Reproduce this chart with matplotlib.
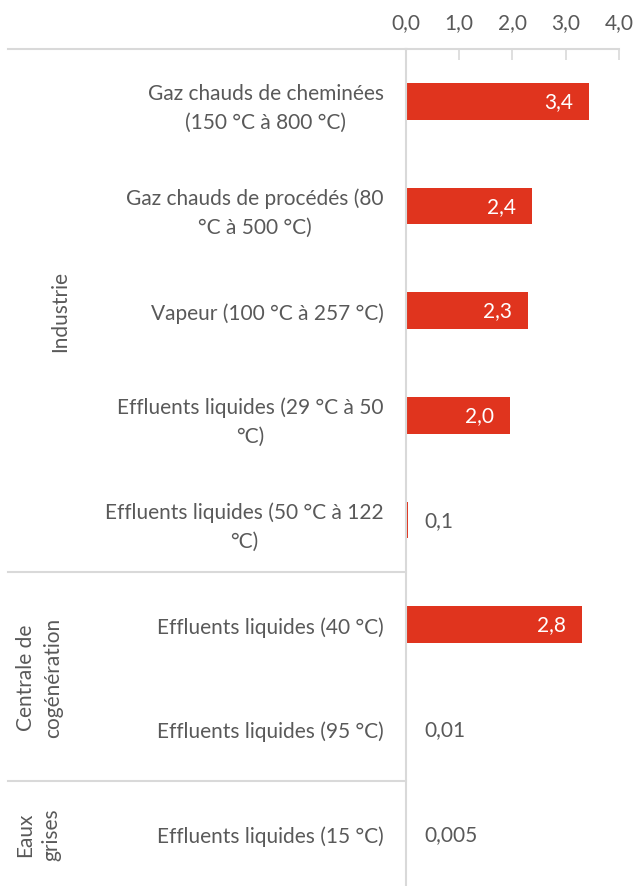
import matplotlib
matplotlib.use("Agg")
import matplotlib.pyplot as plt
import matplotlib.transforms as mtransforms

plt.rcParams['font.family'] = ['Lato', 'DejaVu Sans']

categories = [
    "Gaz chauds de cheminées\n(150 °C à 800 °C)",
    "Gaz chauds de procédés (80\n°C à 500 °C)",
    "Vapeur (100 °C à 257 °C)",
    "Effluents liquides (29 °C à 50\n°C)",
    "Effluents liquides (50 °C à 122\n°C)",
    "Effluents liquides (40 °C)",
    "Effluents liquides (95 °C)",
    "Effluents liquides (15 °C)",
]
# bar lengths as drawn, and the labels printed on them
bar_values = [3.44, 2.37, 2.29, 1.96, 0.04, 3.31, 0.005, 0.0]
value_labels = ["3,4", "2,4", "2,3", "2,0", "0,1", "2,8", "0,01", "0,005"]
groups = ["Industrie", "Centrale de\ncogénération", "Eaux\ngrises"]
group_rows = [(0, 4), (5, 6), (7, 7)]
xticks = [0, 1, 2, 3, 4]
xtick_labels = ["0,0", "1,0", "2,0", "3,0", "4,0"]

RED = "#E0341E"
GREY_TXT = "#595959"
GRID = "#D9D9D9"
FS = 15

fig = plt.figure(figsize=(6.4, 8.87), dpi=100)
ax = fig.add_axes([0.634, 0.0, 0.333, 0.9436])

ypos = list(range(len(categories)))
ax.barh(ypos, bar_values, height=0.35, color=RED)
ax.set_xlim(0, 4)
ax.set_ylim(len(categories) - 0.5, -0.5)

ax.xaxis.tick_top()
ax.set_xticks(xticks)
ax.set_xticklabels(xtick_labels)
ax.tick_params(axis='x', direction='in', length=8, color=GRID, width=1.2,
               labelsize=FS, labelcolor=GREY_TXT, pad=12)
ax.set_yticks(ypos)
ax.set_yticklabels(categories)
ax.tick_params(axis='y', length=0, labelsize=FS, labelcolor=GREY_TXT, pad=16)
for lab in ax.get_yticklabels():
    lab.set_multialignment('center')
    lab.set_linespacing(1.55)

for s in ['right', 'bottom']:
    ax.spines[s].set_visible(False)
for s in ['top', 'left']:
    ax.spines[s].set_color(GRID)
    ax.spines[s].set_linewidth(1.5)

# value labels
for y, v, lab in zip(ypos, bar_values, value_labels):
    if v > 1:
        ax.text(v - 0.3, y, lab, ha='right', va='center', color='white', fontsize=FS)
    else:
        ax.text(0.35, y, lab, ha='left', va='center', color=GREY_TXT, fontsize=FS)

# group separators and labels to the left of the axes
trans = mtransforms.blended_transform_factory(fig.transFigure, ax.transData)
for yline in [-0.5, 4.5, 6.5]:
    ax.plot([0.012, 0.634], [yline, yline], transform=trans, color=GRID,
            lw=1.5, clip_on=False)

group_x = [0.094, 0.062, 0.06]
for name, (a, b), gx in zip(groups, group_rows, group_x):
    ax.text(gx, (a + b) / 2, name, transform=trans, rotation=90, ha='center',
            va='center', color=GREY_TXT, fontsize=FS, multialignment='center',
            linespacing=1.4)

fig.savefig("out.png", dpi=100)
